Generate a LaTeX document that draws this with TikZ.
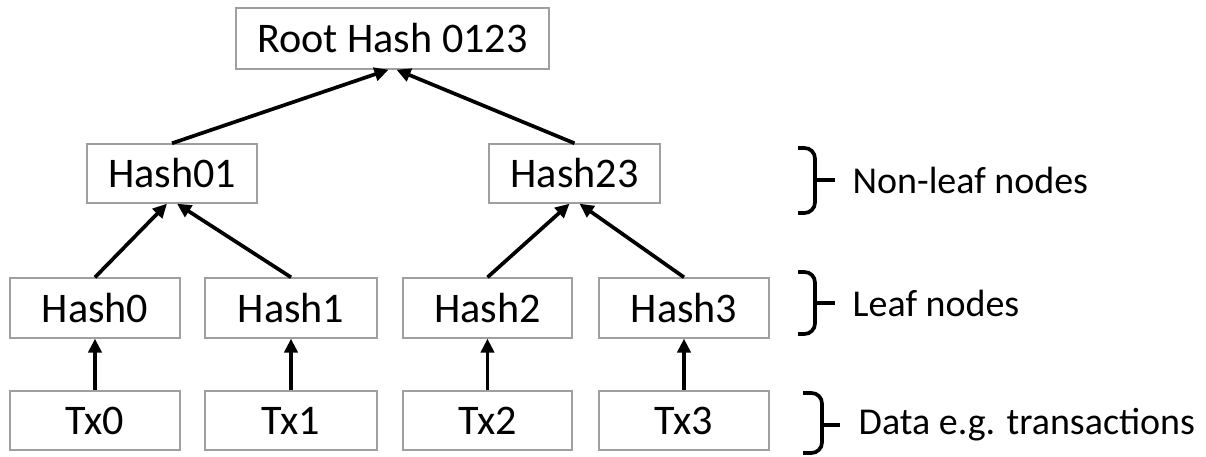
\documentclass[tikz,border=0pt]{standalone}
\usepackage{fontspec}
\setmainfont{Carlito}
\usetikzlibrary{arrows.meta}

\begin{document}
\begin{tikzpicture}
[hashbox/.style={rectangle, draw=gray!75, line width=0.4pt, minimum width=1.7cm, minimum height=0.6cm, inner sep=0pt, text centered, font=\fontsize{12}{14}\selectfont},
arrow/.style={line width=1.05pt, -{Triangle[length=4pt,width=3.8pt]}},
bracket/.style={line width=1.05pt, rounded corners=3pt},
levellabel/.style={anchor=west, inner sep=0pt, font=\fontsize{10.8}{13}\selectfont}]
\useasboundingbox (0,0) rectangle (12.06,4.57);

\node (root) [hashbox, minimum width=3.13cm, minimum height=0.61cm] at (3.925,4.185) {Root Hash 0123};

\node (hash01) [hashbox, minimum height=0.59cm] at (1.72,2.835) {Hash01};
\node (hash23) [hashbox, minimum width=1.71cm, minimum height=0.59cm] at (5.745,2.835) {Hash23};

\node (hash0) [hashbox] at (0.95,1.49) {Hash0};
\node (hash1) [hashbox, minimum width=1.72cm] at (2.91,1.49) {Hash1};
\node (hash2) [hashbox, minimum width=1.69cm] at (4.875,1.49) {Hash2};
\node (hash3) [hashbox] at (6.84,1.49) {Hash3};

\node (tx0) [hashbox, minimum height=0.59cm] at (0.95,0.365) {Tx0};
\node (tx1) [hashbox, minimum width=1.72cm, minimum height=0.59cm] at (2.91,0.365) {Tx1};
\node (tx2) [hashbox, minimum width=1.69cm, minimum height=0.59cm] at (4.875,0.365) {Tx2};
\node (tx3) [hashbox, minimum height=0.59cm] at (6.84,0.365) {Tx3};

\draw [arrow] (hash01.north) -- ([xshift=-0.04cm]root.south);
\draw [arrow] (hash23.north) -- ([xshift=0.04cm]root.south);

\draw [arrow] (hash0.north) -- ([xshift=-0.05cm]hash01.south);
\draw [arrow] (hash1.north) -- ([xshift=0.05cm]hash01.south);
\draw [arrow] (hash2.north) -- ([xshift=-0.05cm]hash23.south);
\draw [arrow] (hash3.north) -- ([xshift=0.05cm]hash23.south);

\draw [arrow] (tx0.north) -- (hash0.south);
\draw [arrow] (tx1.north) -- (hash1.south);
\draw [arrow] (tx2.north) -- (hash2.south);
\draw [arrow] (tx3.north) -- (hash3.south);

\node (nonleaf) [levellabel] at (8.52,2.77) {Non-leaf nodes};
\node (leaf) [levellabel] at (8.52,1.54) {Leaf nodes};
\node (data) [levellabel] at (8.58,0.32) {Data e.g. transactions};

\draw [bracket] (7.98,3.09) -| (8.15,2.44) -- (7.98,2.44);
\draw [line width=1.05pt] (8.15,2.77) -- (8.35,2.77);

\draw [bracket] (7.98,1.85) -| (8.15,1.23) -- (7.98,1.23);
\draw [line width=1.05pt] (8.15,1.54) -- (8.35,1.54);

\draw [bracket] (8.03,0.64) -| (8.22,0.04) -- (8.03,0.04);
\draw [line width=1.05pt] (8.22,0.32) -- (8.40,0.32);
\end{tikzpicture}
\end{document}
